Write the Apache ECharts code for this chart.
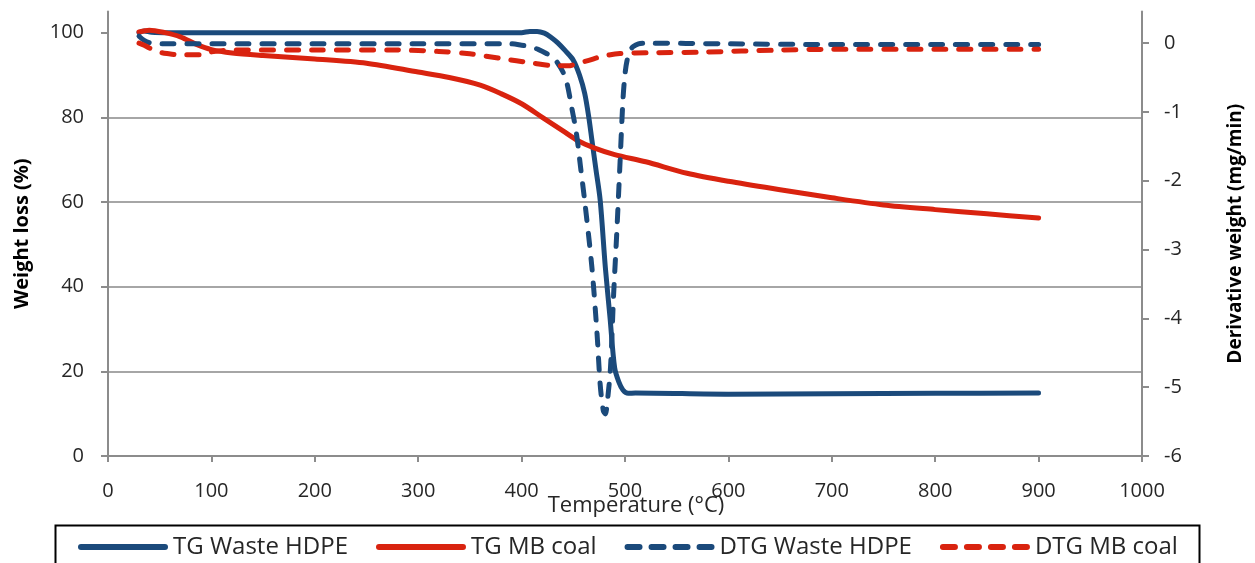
<!DOCTYPE html>
<html>
<head>
<meta charset="utf-8">
<script src="https://cdn.jsdelivr.net/npm/echarts@6/dist/echarts.min.js"></script>
<style>
html,body{margin:0;padding:0;background:#fff;}
#chart{width:1255px;height:563px;}
</style>
</head>
<body>
<div id="chart"></div>
<script>
// ---- data ----
const xTicks = [0, 100, 200, 300, 400, 500, 600, 700, 800, 900, 1000];
const leftTicks = [0, 20, 40, 60, 80, 100];
const rightTicks = [-6, -5, -4, -3, -2, -1, 0];

const tgHdpeT = [30, 35, 42, 60, 100, 200, 300, 400, 408, 415, 422, 428, 435, 442, 450, 456, 461, 465, 468, 472, 476, 481, 485.5, 490, 494, 498, 503, 510, 600, 700, 800, 900];
const tgHdpeW = [100.0, 100.4, 100.1, 100, 100, 100, 100, 100, 100.3, 100.3, 99.9, 99.0, 97.6, 95.8, 93.5, 90.0, 85.7, 80, 74.6, 67.5, 60.4, 44.5, 32.7, 20.8, 17.5, 15.6, 14.8, 14.9, 14.6, 14.7, 14.8, 14.9];

const tgCoalT = [30, 40, 55, 70, 85, 100, 120, 150, 200, 250, 300, 330, 360, 380, 400, 420, 440, 455, 470, 490, 520, 560, 600, 650, 700, 750, 800, 850, 900];
const tgCoalW = [100.2, 100.6, 100, 99, 97.3, 96, 95.2, 94.6, 93.8, 92.8, 90.7, 89.4, 87.6, 85.6, 83.2, 80, 76.8, 74.4, 72.8, 71.2, 69.5, 66.8, 64.9, 62.9, 61.0, 59.3, 58.2, 57.2, 56.2];

const dtgHdpeT = [30, 35, 42, 60, 100, 200, 300, 390, 400, 408, 416, 424, 430, 434, 440, 444, 448, 453, 457, 461, 468, 473, 476, 479, 481, 483, 486, 489, 492, 495, 498, 500, 502, 505, 508, 513, 518, 600, 700, 800, 900];
const dtgHdpeD = [0.1, 0.04, 0.0, -0.01, -0.01, -0.01, -0.01, -0.01, -0.03, -0.05, -0.09, -0.15, -0.21, -0.27, -0.42, -0.59, -0.9, -1.31, -1.8, -2.29, -3.26, -4.23, -4.96, -5.34, -5.39, -5.2, -4.71, -3.65, -2.77, -1.8, -0.83, -0.45, -0.25, -0.1, -0.05, -0.01, 0, -0.01, -0.02, -0.02, -0.02];

const dtgCoalT = [30, 35, 40, 50, 57, 70, 89, 99, 110, 121, 200, 280, 320, 347, 379, 411, 434, 445, 453, 465, 476, 495, 524, 575, 650, 700, 800, 900];
const dtgCoalD = [0.0, -0.03, -0.07, -0.13, -0.15, -0.17, -0.17, -0.13, -0.11, -0.1, -0.1, -0.1, -0.12, -0.15, -0.22, -0.29, -0.33, -0.33, -0.3, -0.25, -0.2, -0.15, -0.14, -0.13, -0.1, -0.09, -0.09, -0.09];

const seriesNames = ['TG Waste HDPE', 'TG MB coal', 'DTG Waste HDPE', 'DTG MB coal'];
// ---------------

const BLUE = '#1B4A7B';
const RED = '#D9230F';
const pairs = (xs, ys) => xs.map((x, i) => [x, ys[i]]);
const FONT = '"Open Sans", "DejaVu Sans", sans-serif';
const tickColor = '#8C8C8C';
const SOLID_ICON = 'path://M3,0H87A3,3 0 0 1 87,6H3A3,3 0 0 1 3,0Z';
const DASH_ICON = 'path://M3,0H15A3,3 0 0 1 15,6H3A3,3 0 0 1 3,0Z M27,0H39A3,3 0 0 1 39,6H27A3,3 0 0 1 27,0Z M51,0H63A3,3 0 0 1 63,6H51A3,3 0 0 1 51,0Z M75,0H87A3,3 0 0 1 87,6H75A3,3 0 0 1 75,0Z';

const chart = echarts.init(document.getElementById('chart'), null, {renderer: 'canvas'});

const lineBase = (name, data, color, dashed, yIdx) => ({
  name, type: 'line', data, yAxisIndex: yIdx,
  showSymbol: false, symbol: 'none',
  smooth: 0.3,
  lineStyle: {color, width: 5, type: dashed ? [12, 13] : 'solid', cap: 'round', join: 'round'},
  itemStyle: {color},
  z: dashed ? 3 : 2,
  animation: false
});

chart.setOption({
  animation: false,
  backgroundColor: '#fff',
  textStyle: {fontFamily: FONT},
  grid: {left: 108, right: 113, top: 11.5, bottom: 107, containLabel: false},
  xAxis: {
    type: 'value', min: 0, max: 1000, interval: 100,
    name: 'Temperature (°C)', nameLocation: 'middle', nameGap: 39, nameMoveOverlap: false,
    nameTextStyle: {fontFamily: FONT, fontSize: 22, color: '#262626', padding: [0, 0, 0, 22]},
    axisLine: {show: true, lineStyle: {color: tickColor, width: 2}},
    axisTick: {show: true, length: 6, lineStyle: {color: tickColor, width: 2}, customValues: xTicks},
    axisLabel: {fontFamily: FONT, fontSize: 20, color: '#262626', margin: 25, customValues: xTicks, formatter: v => String(v)},
    splitLine: {show: false}
  },
  yAxis: [{
    type: 'value', min: 0, max: 105, interval: 20, position: 'left',
    name: 'Weight loss (%)', nameLocation: 'middle', nameGap: 76, nameRotate: 90,
    nameTextStyle: {fontFamily: FONT, fontSize: 20, fontWeight: 'bold', color: '#000'},
    axisLine: {show: true, lineStyle: {color: tickColor, width: 2}},
    axisTick: {show: true, inside: false, length: 7, lineStyle: {color: tickColor, width: 2}, customValues: leftTicks},
    axisLabel: {fontFamily: FONT, fontSize: 20, color: '#262626', margin: 24, customValues: leftTicks, formatter: v => String(v)},
    splitLine: {show: true, showMaxLine: false, showMinLine: false, lineStyle: {color: '#A6A6A6', width: 2}}
  }, {
    type: 'value', min: -6, max: 0.46, interval: 1, position: 'right',
    name: 'Derivative weight (mg/min)', nameLocation: 'middle', nameGap: 84, nameRotate: 90,
    nameTextStyle: {fontFamily: FONT, fontSize: 19, fontWeight: 'bold', color: '#000'},
    axisLine: {show: true, lineStyle: {color: tickColor, width: 2}},
    axisTick: {show: true, length: 7, lineStyle: {color: tickColor, width: 2}, customValues: rightTicks},
    axisLabel: {fontFamily: FONT, fontSize: 20, color: '#262626', margin: 22, customValues: rightTicks, formatter: v => String(v)},
    splitLine: {show: false}
  }],
  legend: {
    left: 78, top: 533, padding: 0,
    itemWidth: 90, itemHeight: 6, itemGap: 28,
    textStyle: {fontFamily: FONT, fontSize: 24, color: '#262626', lineHeight: 28},
    data: [
      {name: seriesNames[0], icon: SOLID_ICON},
      {name: seriesNames[1], icon: SOLID_ICON},
      {name: seriesNames[2], icon: DASH_ICON},
      {name: seriesNames[3], icon: DASH_ICON}
    ]
  },
  graphic: [{
    type: 'rect', left: 53, top: 523,
    shape: {width: 1144, height: 60},
    style: {fill: 'none', stroke: '#000', lineWidth: 2},
    z: -1
  }],
  series: [
    lineBase(seriesNames[0], pairs(tgHdpeT, tgHdpeW), BLUE, false, 0),
    lineBase(seriesNames[1], pairs(tgCoalT, tgCoalW), RED, false, 0),
    lineBase(seriesNames[2], pairs(dtgHdpeT, dtgHdpeD), BLUE, true, 1),
    lineBase(seriesNames[3], pairs(dtgCoalT, dtgCoalD), RED, true, 1)
  ]
});
</script>
</body>
</html>
